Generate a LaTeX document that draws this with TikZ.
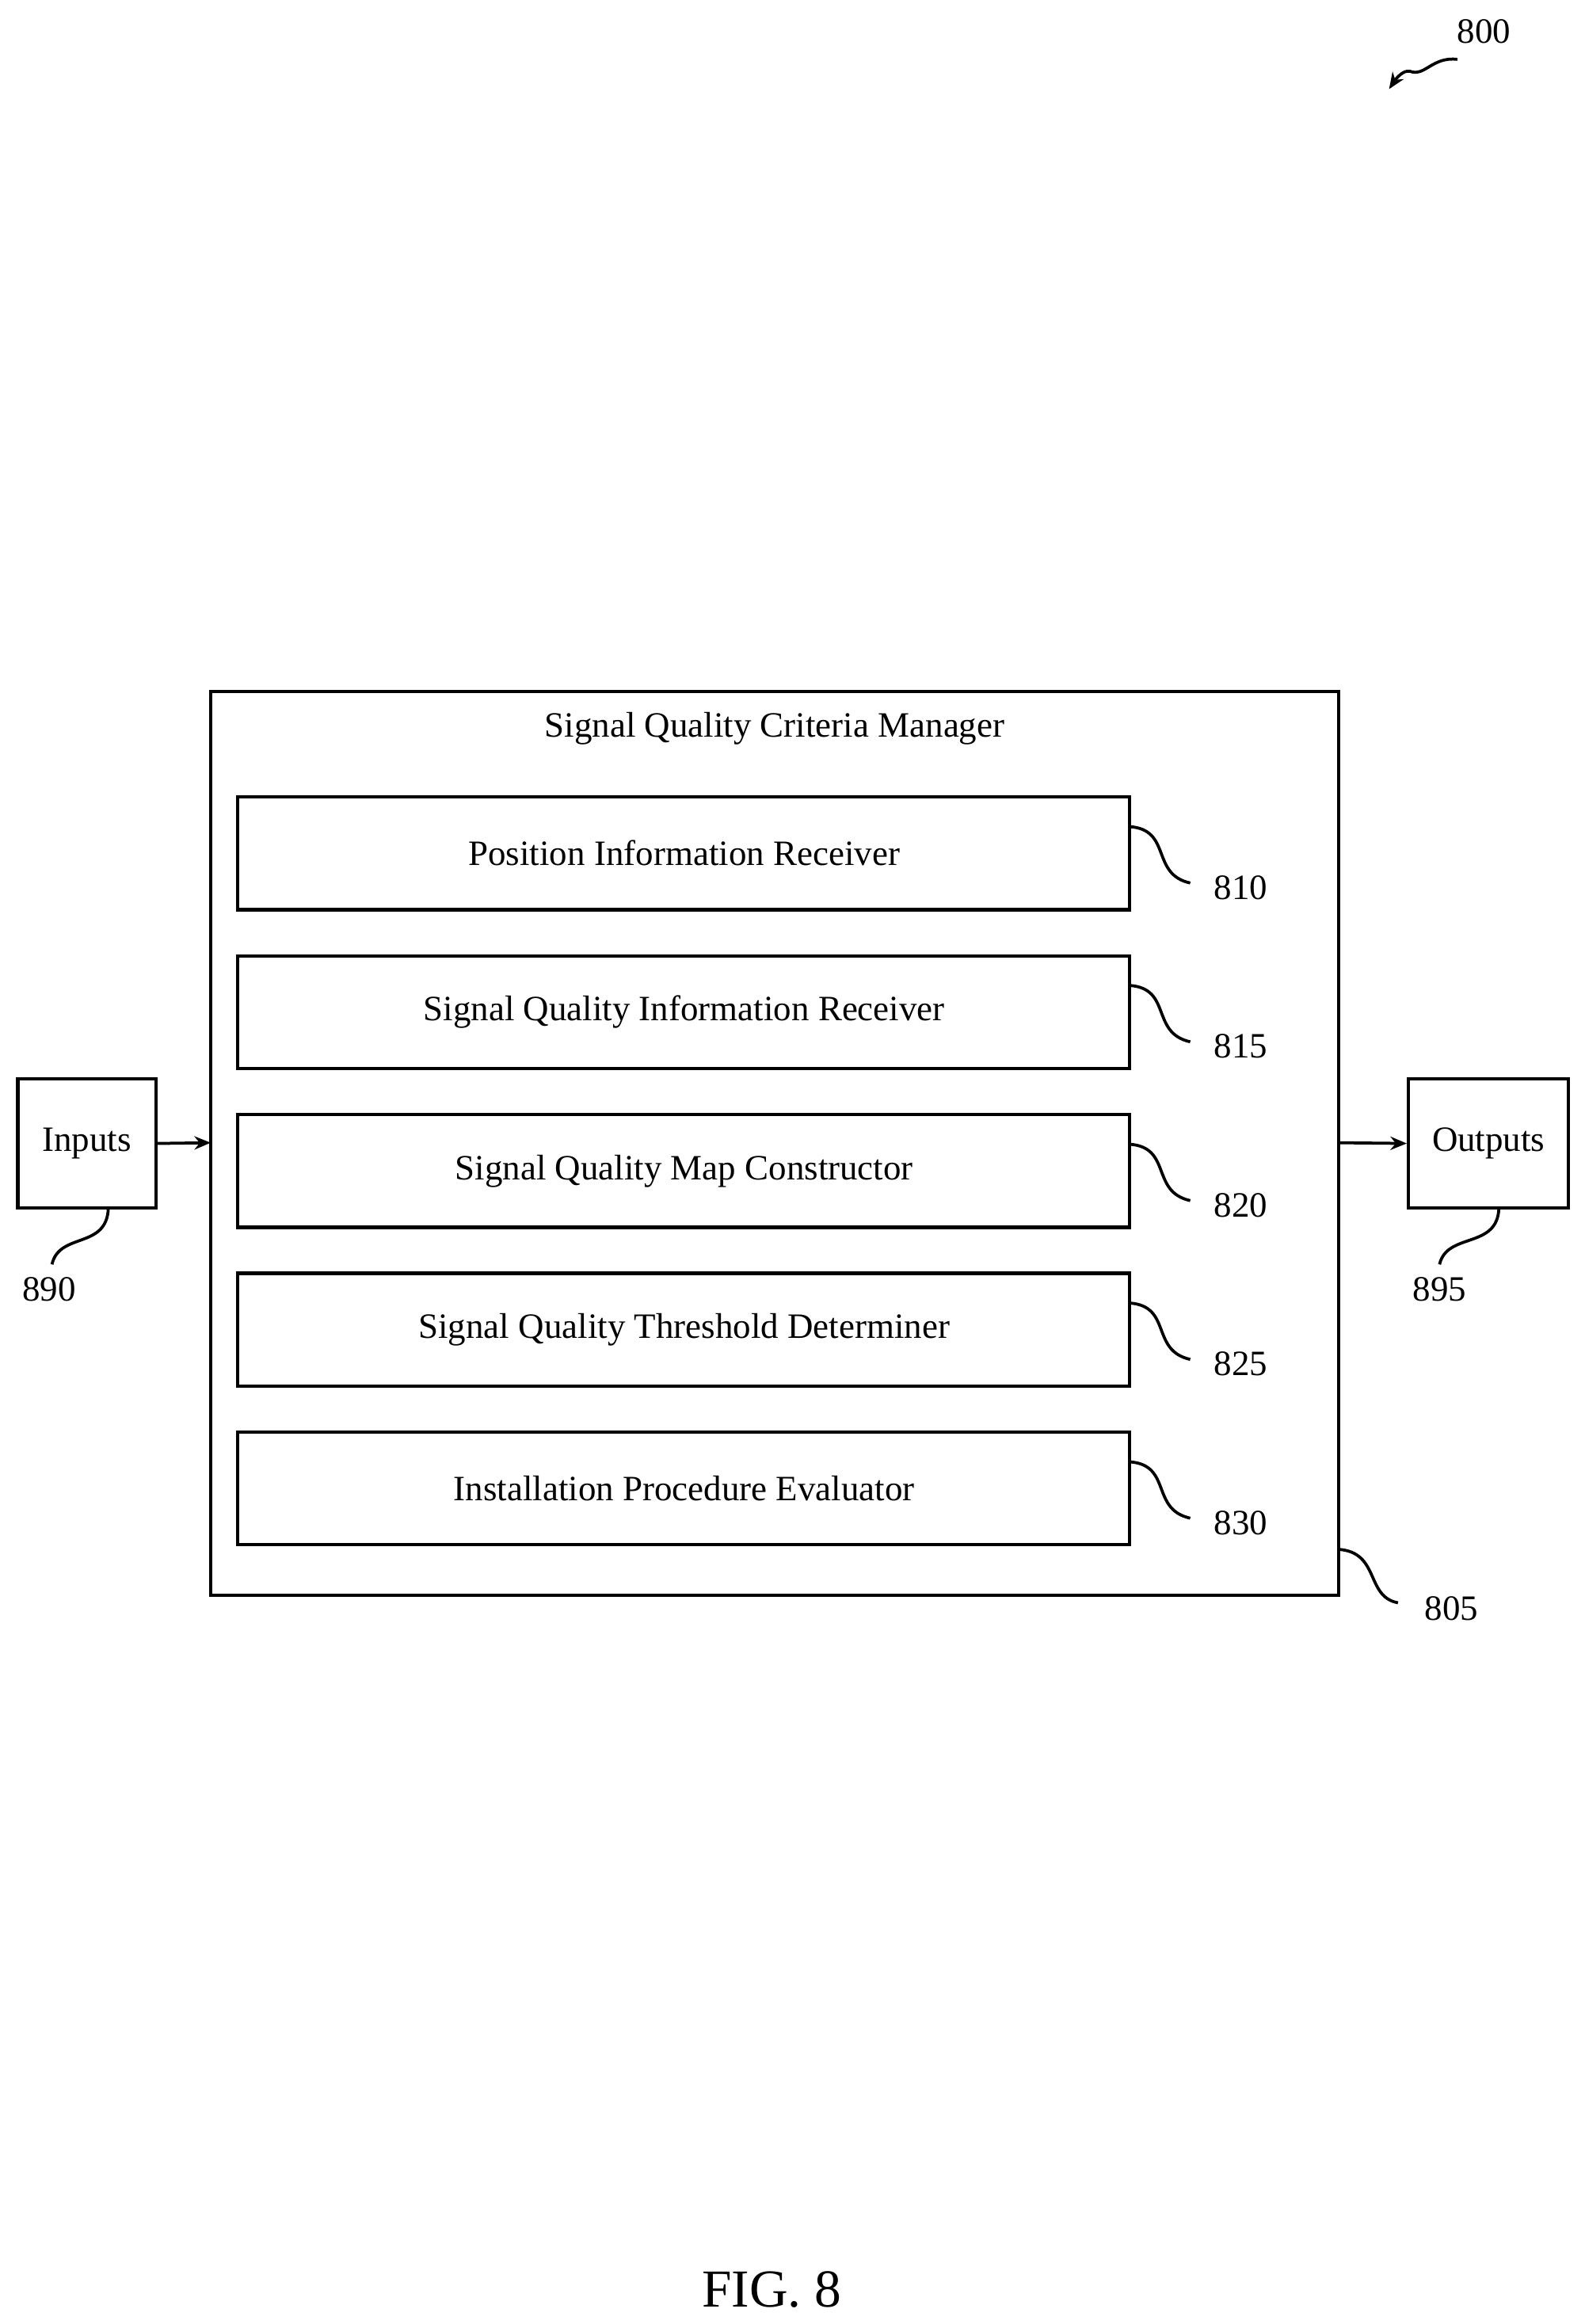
\documentclass[tikz,border=0pt]{standalone}
\usepackage{fontspec}
\setmainfont{Liberation Serif}
\usetikzlibrary{arrows.meta}
\begin{document}
\begin{tikzpicture}[x=1pt,y=-1pt,
  box/.style={draw,line width=2.2pt},
  lbl/.style={font=\fontsize{24}{28}\selectfont},
  sq/.style={line width=2pt},
  arr/.style={line width=2pt,-{Stealth[length=11pt,width=9pt]}}]
\useasboundingbox (0,0) rectangle (1068,1566);
\draw[box] (142,466) rectangle (902,1075);
\node[lbl] (title) at (522,491) {Signal Quality Criteria Manager};
\foreach \t/\n/\y in {Position Information Receiver/810/537,
  Signal Quality Information Receiver/815/644,
  Signal Quality Map Constructor/820/751,
  Signal Quality Threshold Determiner/825/858,
  Installation Procedure Evaluator/830/965}{
  \draw[box] (160,\y) rectangle (761,\y+76);
  \node[lbl] (b\n) at (461,\y+38) {\t};
  \node[lbl] (l\n) at (836,\y+61) {\n};
  \draw[sq] (761,\y+20) .. controls (790,\y+22) and (775,\y+52) .. (802,\y+58);
}
\node[box,lbl,minimum width=93pt,minimum height=87pt,inner sep=0pt] (in) at (58.5,770.5) {Inputs};
\node[box,lbl,minimum width=108pt,minimum height=87pt,inner sep=0pt] (out) at (1003,770.5) {Outputs};
\coordinate (mL) at (142,770);
\coordinate (mR) at (902,770);
\draw[arr] (in.east) -- (mL);
\draw[arr] (mR) -- (out.west);
\node[lbl] (l890) at (33,869) {890};
\draw[sq] (73,814) .. controls (72,842) and (40,830) .. (35,852);
\node[lbl] (l895) at (970,869) {895};
\draw[sq] (1010,814) .. controls (1009,842) and (975,830) .. (970,852);
\node[lbl] (l805) at (978,1084) {805};
\draw[sq] (902,1044) .. controls (930,1046) and (920,1076) .. (942,1080);
\node[lbl] (l800) at (1000,21) {800};
\coordinate (a0) at (982,40);
\coordinate (a1) at (936,60);
\draw[arr] (a0) .. controls (965,38) and (960,52) .. (950,48) .. controls (945,47) and (940,54) .. (a1);
\node[font=\fontsize{36}{40}\selectfont] (fig) at (520,1543) {FIG. 8};
\end{tikzpicture}
\end{document}
